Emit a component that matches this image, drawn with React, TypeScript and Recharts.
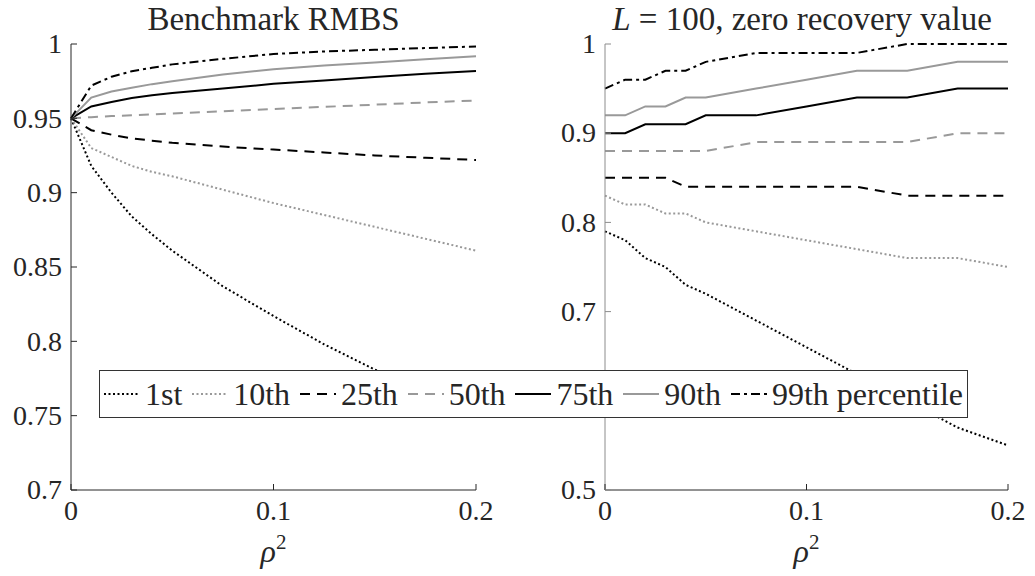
import React from "react";
import { LineChart, Line, XAxis, YAxis, Label } from "recharts";

const FONT = "Liberation Serif, Times New Roman, DejaVu Serif, serif";
const INK = "#262626";

// rho^2 grid shared by both panels
const rho2 = [0, 0.01, 0.02, 0.03, 0.04, 0.05, 0.075, 0.1, 0.125, 0.15, 0.175, 0.2];

// Benchmark RMBS
const benchP1 = [0.95, 0.918, 0.9, 0.884, 0.872, 0.861, 0.837, 0.817, 0.798, 0.781, 0.766, 0.752];
const benchP10 = [0.95, 0.93, 0.924, 0.918, 0.914, 0.911, 0.902, 0.893, 0.885, 0.877, 0.869, 0.861];
const benchP25 = [0.95, 0.942, 0.939, 0.9365, 0.935, 0.9335, 0.931, 0.929, 0.927, 0.925, 0.9235, 0.922];
const benchP50 = [0.95, 0.9508, 0.9515, 0.952, 0.9527, 0.9533, 0.9548, 0.9562, 0.9577, 0.9592, 0.9607, 0.962];
const benchP75 = [0.95, 0.958, 0.961, 0.9637, 0.9655, 0.967, 0.97, 0.9732, 0.9755, 0.9778, 0.98, 0.9818];
const benchP90 = [0.95, 0.964, 0.968, 0.9705, 0.973, 0.975, 0.9795, 0.983, 0.9855, 0.9875, 0.9897, 0.9918];
const benchP99 = [0.95, 0.972, 0.978, 0.9817, 0.984, 0.9863, 0.99, 0.9933, 0.995, 0.9961, 0.9973, 0.9983];

// L = 100, zero recovery value
const zeroP1 = [0.79, 0.78, 0.76, 0.75, 0.73, 0.72, 0.69, 0.66, 0.63, 0.6, 0.57, 0.55];
const zeroP10 = [0.83, 0.82, 0.82, 0.81, 0.81, 0.8, 0.79, 0.78, 0.77, 0.76, 0.76, 0.75];
const zeroP25 = [0.85, 0.85, 0.85, 0.85, 0.84, 0.84, 0.84, 0.84, 0.84, 0.83, 0.83, 0.83];
const zeroP50 = [0.88, 0.88, 0.88, 0.88, 0.88, 0.88, 0.89, 0.89, 0.89, 0.89, 0.9, 0.9];
const zeroP75 = [0.9, 0.9, 0.91, 0.91, 0.91, 0.92, 0.92, 0.93, 0.94, 0.94, 0.95, 0.95];
const zeroP90 = [0.92, 0.92, 0.93, 0.93, 0.94, 0.94, 0.95, 0.96, 0.97, 0.97, 0.98, 0.98];
const zeroP99 = [0.95, 0.96, 0.96, 0.97, 0.97, 0.98, 0.99, 0.99, 0.99, 1.0, 1.0, 1.0];

const xTicks = [0, 0.1, 0.2];
const xTickLabels = ["0", "0.1", "0.2"];
const leftTicks = [0.7, 0.75, 0.8, 0.85, 0.9, 0.95, 1];
const leftTickLabels = ["0.7", "0.75", "0.8", "0.85", "0.9", "0.95", "1"];
const rightTicks = [0.5, 0.6, 0.7, 0.8, 0.9, 1];
// the 0.6 label sits under the legend box in the original
const rightTickLabels = ["0.5", "", "0.7", "0.8", "0.9", "1"];

const seriesNames = ["1st", "10th", "25th", "50th", "75th", "90th", "99th percentile"];

const styles = [
	{ key: "p1", color: "#000", dash: "2 2.5" },
	{ key: "p10", color: "#999", dash: "2 2.5" },
	{ key: "p25", color: "#000", dash: "10 7" },
	{ key: "p50", color: "#999", dash: "10 7" },
	{ key: "p75", color: "#000", dash: undefined },
	{ key: "p90", color: "#999", dash: undefined },
	{ key: "p99", color: "#000", dash: "9 4 3 4" },
];

const toRows = (cols: number[][]) =>
	rho2.map((x, i) => {
		const row: Record<string, number> = { x };
		styles.forEach((s, j) => (row[s.key] = cols[j][i]));
		return row;
	});

const benchRows = toRows([benchP1, benchP10, benchP25, benchP50, benchP75, benchP90, benchP99]);
const zeroRows = toRows([zeroP1, zeroP10, zeroP25, zeroP50, zeroP75, zeroP90, zeroP99]);

const Y_MARGIN = 9;
const X_MARGIN = 8;
const TICK_FS = 28;

const lookup = (ticks: number[], labels: string[], v: number) => {
	const i = ticks.findIndex((t) => Math.abs(t - v) < 1e-9);
	return i >= 0 ? labels[i] : String(v);
};

const makeYTick = (ticks: number[], labels: string[], axisColor: string) => (props: any) => {
	const { x, y, payload } = props;
	const ax = x + Y_MARGIN;
	const txt = lookup(ticks, labels, payload.value);
	return (
		<g>
			<line x1={ax} x2={ax + 6} y1={y} y2={y} stroke={axisColor} />
			{txt && (
				<text x={x} y={y} dy="0.33em" textAnchor="end" fontSize={TICK_FS} fontFamily={FONT} fill={INK}>
					{txt}
				</text>
			)}
		</g>
	);
};

const XTick = (props: any) => {
	const { x, y, payload } = props;
	const ay = y - X_MARGIN;
	return (
		<g>
			<line x1={x} x2={x} y1={ay} y2={ay - 6} stroke={INK} />
			<text x={x} y={y} dy={22} textAnchor="middle" fontSize={TICK_FS} fontFamily={FONT} fill={INK}>
				{lookup(xTicks, xTickLabels, payload.value)}
			</text>
		</g>
	);
};

const RhoLabel = (props: any) => {
	const vb = props.viewBox;
	const cx = vb.x + vb.width / 2;
	return (
		<text x={cx} y={vb.y + 72} textAnchor="middle" fontFamily={FONT} fontSize={32} fill={INK}>
			<tspan fontStyle="italic">ρ</tspan>
			<tspan fontSize={21} dy={-13}>2</tspan>
		</text>
	);
};

type PanelProps = {
	rows: Record<string, number>[];
	ticks: number[];
	labels: string[];
	domain: [number, number];
	yAxisWidth: number;
	width: number;
	yAxisColor: string;
};

const Panel = ({ rows, ticks, labels, domain, yAxisWidth, width, yAxisColor }: PanelProps) => (
	<LineChart width={width} height={576} data={rows} margin={{ top: 44, right: 27, bottom: 0, left: 0 }}>
		<XAxis
			dataKey="x"
			type="number"
			domain={[0, 0.2]}
			ticks={xTicks}
			interval={0}
			height={86}
			tickSize={0}
			tickMargin={X_MARGIN}
			tickLine={false}
			stroke={INK}
			tick={XTick}
		>
			<Label content={<RhoLabel />} />
		</XAxis>
		<YAxis
			type="number"
			domain={domain}
			ticks={ticks}
			interval={0}
			width={yAxisWidth}
			tickSize={0}
			tickMargin={Y_MARGIN}
			tickLine={false}
			stroke={yAxisColor}
			tick={makeYTick(ticks, labels, yAxisColor)}
		/>
		{styles.map((s) => (
			<Line
				key={s.key}
				type="linear"
				dataKey={s.key}
				stroke={s.color}
				strokeWidth={2}
				strokeDasharray={s.dash}
				dot={false}
				isAnimationActive={false}
			/>
		))}
	</LineChart>
);

const Sample = ({ color, dash }: { color: string; dash?: string }) => (
	<svg width={36} height={10} style={{ display: "block" }}>
		<line x1={0} x2={36} y1={5} y2={5} stroke={color} strokeWidth={2} strokeDasharray={dash} />
	</svg>
);

const titleStyle: React.CSSProperties = {
	position: "absolute",
	top: 0,
	fontSize: 33,
	lineHeight: "38px",
	fontFamily: FONT,
	color: INK,
	textAlign: "center",
	whiteSpace: "nowrap",
};

const App = () => (
	<div style={{ position: "absolute", left: 0, top: 0, width: 1035, height: 576, background: "#fff", overflow: "hidden" }}>
		<div style={{ position: "absolute", left: 0, top: 0 }}>
			<Panel rows={benchRows} ticks={leftTicks} labels={leftTickLabels} domain={[0.7, 1]} yAxisWidth={71} width={503} yAxisColor={INK} />
		</div>
		<div style={{ position: "absolute", left: 520, top: 0 }}>
			<Panel rows={zeroRows} ticks={rightTicks} labels={rightTickLabels} domain={[0.5, 1]} yAxisWidth={85} width={515} yAxisColor="#8c8c8c" />
		</div>
		<div style={{ ...titleStyle, left: 71, width: 405 }}>Benchmark RMBS</div>
		<div style={{ ...titleStyle, left: 552, width: 500 }}>
			<i>L</i> = 100, zero recovery value
		</div>
		<div
			style={{
				position: "absolute",
				left: 99,
				top: 370,
				width: 869,
				height: 48,
				boxSizing: "border-box",
				border: "1px solid #333",
				background: "#fff",
				display: "flex",
				alignItems: "center",
				justifyContent: "space-between",
				padding: "0 4px",
				fontFamily: FONT,
				fontSize: 32,
				color: INK,
			}}
		>
			{styles.map((s, i) => (
				<div key={s.key} style={{ display: "flex", alignItems: "center", gap: 5, whiteSpace: "nowrap" }}>
					<Sample color={s.color} dash={s.dash} />
					<span>{seriesNames[i]}</span>
				</div>
			))}
		</div>
	</div>
);

export default App;
